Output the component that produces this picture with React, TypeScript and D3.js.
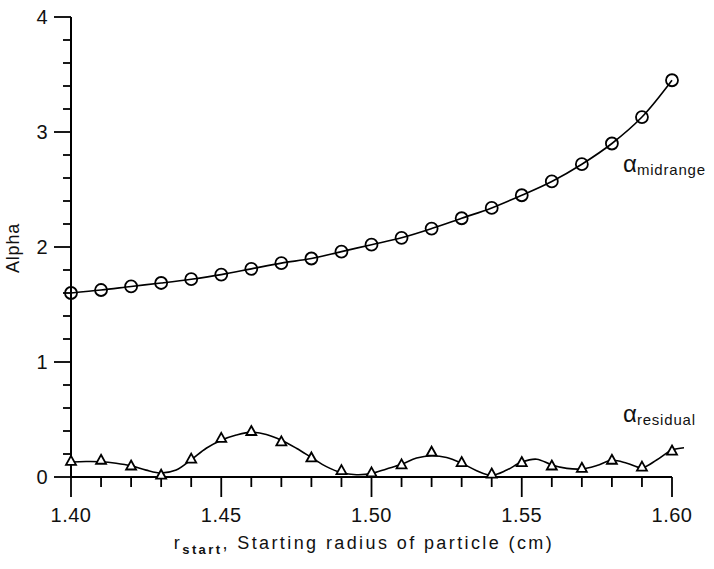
import React from "react";
import * as d3 from "d3";

const radius = [1.40, 1.41, 1.42, 1.43, 1.44, 1.45, 1.46, 1.47, 1.48, 1.49, 1.50, 1.51, 1.52, 1.53, 1.54, 1.55, 1.56, 1.57, 1.58, 1.59, 1.60];
const alphaMidrange = [1.60, 1.626, 1.657, 1.687, 1.72, 1.76, 1.81, 1.86, 1.90, 1.96, 2.02, 2.08, 2.16, 2.25, 2.34, 2.45, 2.57, 2.72, 2.90, 3.13, 3.45];
const alphaResidual = [0.14, 0.15, 0.10, 0.02, 0.16, 0.34, 0.40, 0.31, 0.17, 0.06, 0.04, 0.11, 0.22, 0.13, 0.03, 0.13, 0.10, 0.08, 0.15, 0.09, 0.23];

// smooth fitted curve through residual points
const residualFitX = [1.400, 1.405, 1.410, 1.415, 1.420, 1.425, 1.430, 1.435, 1.440, 1.445, 1.450, 1.455, 1.460, 1.465, 1.470, 1.475, 1.480, 1.485, 1.490, 1.495, 1.500, 1.505, 1.510, 1.515, 1.520, 1.525, 1.530, 1.535, 1.540, 1.545, 1.550, 1.555, 1.560, 1.565, 1.570, 1.575, 1.580, 1.585, 1.590, 1.595, 1.600, 1.604];
const residualFitY = [0.13, 0.135, 0.133, 0.12, 0.098, 0.06, 0.035, 0.06, 0.15, 0.25, 0.32, 0.365, 0.39, 0.37, 0.32, 0.25, 0.17, 0.09, 0.037, 0.02, 0.03, 0.07, 0.11, 0.165, 0.185, 0.17, 0.12, 0.055, 0.015, 0.06, 0.13, 0.155, 0.105, 0.075, 0.07, 0.10, 0.145, 0.12, 0.08, 0.15, 0.235, 0.255];

const yTickLabels = ["0", "1", "2", "3", "4"];
const xTickLabels = ["1.40", "1.45", "1.50", "1.55", "1.60"];

const W = 714;
const H = 569;
const FONT = "'Liberation Sans', Arial, sans-serif";

export default function App() {
  const x = d3.scaleLinear().domain([1.4, 1.6]).range([71, 672]);
  const y = d3.scaleLinear().domain([0, 4]).range([477, 17]);

  const yMinor = d3.range(0, 4.0001, 0.2);
  const xMinor = d3.range(0, 21).map((i) => 1.4 + i * 0.01);

  const midLine = d3
    .line<number>()
    .x((_, i) => x(radius[i]))
    .y((d) => y(d))
    .curve(d3.curveCatmullRom.alpha(0.5));

  const resLine = d3
    .line<number>()
    .x((_, i) => x(residualFitX[i]))
    .y((d) => y(d))
    .curve(d3.curveCatmullRom.alpha(0.5));

  const tri = (cx: number, cy: number) => {
    const s = 5;
    return `M${cx},${cy - s}L${cx + s},${cy + s * 0.8}L${cx - s},${cy + s * 0.8}Z`;
  };

  return (
    <svg
      width={W}
      height={H}
      style={{ position: "absolute", left: 0, top: 0, background: "#fff" }}
      fontFamily={FONT}
    >
      <rect x={0} y={0} width={W} height={H} fill="#fff" />
      {/* y axis */}
      <line x1={x(1.4)} x2={x(1.4)} y1={y(4)} y2={y(0)} stroke="#000" strokeWidth={2} />
      {yMinor.map((v, i) => {
        const major = i % 5 === 0;
        return (
          <line
            key={"yt" + i}
            x1={x(1.4) - (major ? 17 : 8)}
            x2={x(1.4)}
            y1={y(v)}
            y2={y(v)}
            stroke="#000"
            strokeWidth={1.8}
          />
        );
      })}
      {yTickLabels.map((t, i) => (
        <text key={"yl" + i} x={42} y={y(i)} dy="0.36em" textAnchor="middle" fontSize={20} fill="#111">
          {t}
        </text>
      ))}
      {/* x axis */}
      <line x1={x(1.4)} x2={x(1.6)} y1={y(0)} y2={y(0)} stroke="#000" strokeWidth={2} />
      {xMinor.map((v, i) => {
        const major = i % 5 === 0;
        return (
          <line
            key={"xt" + i}
            x1={x(v)}
            x2={x(v)}
            y1={y(0)}
            y2={y(0) + (major ? 20 : 10)}
            stroke="#000"
            strokeWidth={1.8}
          />
        );
      })}
      {xTickLabels.map((t, i) => (
        <text key={"xl" + i} x={x(1.4 + i * 0.05)} y={522} textAnchor="middle" fontSize={20} fill="#111" letterSpacing={0.5}>
          {t}
        </text>
      ))}
      {/* axis titles */}
      <text
        transform={`translate(19,248) rotate(-90)`}
        textAnchor="middle"
        fontSize={18}
        fill="#111"
        letterSpacing={0.8}
      >
        Alpha
      </text>
      <text x={364} y={549} textAnchor="middle" fontSize={18} fill="#111" letterSpacing={2.4}>
        r
        <tspan fontSize={13} dy={5} fontWeight="bold">start</tspan>
        <tspan dy={-5}>, Starting radius of particle (cm)</tspan>
      </text>

      {/* curves */}
      <path d={midLine(alphaMidrange) || ""} fill="none" stroke="#000" strokeWidth={1.6} />
      <path d={resLine(residualFitY) || ""} fill="none" stroke="#000" strokeWidth={1.6} />

      {/* markers */}
      {alphaMidrange.map((v, i) => (
        <circle key={"c" + i} cx={x(radius[i])} cy={y(v)} r={6} fill="none" stroke="#000" strokeWidth={1.8} />
      ))}
      {alphaResidual.map((v, i) => (
        <path key={"t" + i} d={tri(x(radius[i]), y(v))} fill="#fff" stroke="#000" strokeWidth={1.8} />
      ))}

      {/* series labels */}
      <text x={623} y={172} fontSize={24} fill="#111">
        α
        <tspan fontSize={15} dy={3} letterSpacing={0.8}>midrange</tspan>
      </text>
      <text x={623} y={422} fontSize={24} fill="#111">
        α
        <tspan fontSize={15} dy={3} letterSpacing={0.8}>residual</tspan>
      </text>
    </svg>
  );
}
